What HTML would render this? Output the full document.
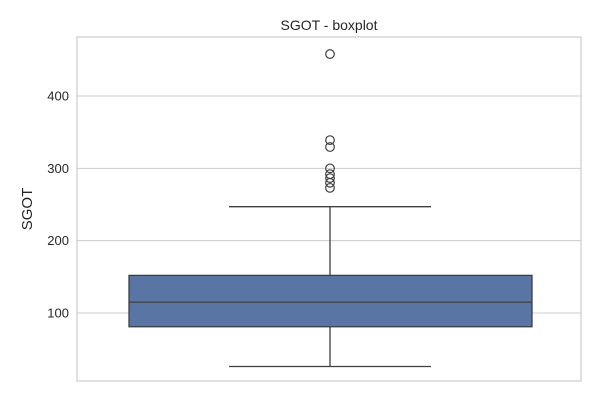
<!DOCTYPE html>
<html><head><meta charset="utf-8"><style>
body{margin:0;background:#fff;font-family:"Liberation Sans",sans-serif}
</style></head><body>
<svg id="chart" width="600" height="400" xmlns="http://www.w3.org/2000/svg"></svg>
<script>
const yTicks=[100,200,300,400];
const stats=[81,115,152];
const whiskers=[26,247];
const outliers=[458,339,329.5,300,292,286.5,280,273];
const svg=document.getElementById('chart');
const NS='http://www.w3.org/2000/svg';
const L=77,R=581,T=37,B=381;
function y(v){return 313-(v-100)*0.7233;}
function mk(tag,attrs,name){const e=document.createElementNS(NS,tag);for(const k in attrs)e.setAttribute(k,attrs[k]);


svg.appendChild(e);return e;}
yTicks.forEach(t=>{
 mk('line',{x1:L,x2:R,y1:y(t),y2:y(t),stroke:'#cccccc','stroke-width':1},'gridline-'+t);
 const tx=mk('text',{x:L-8,y:y(t)+4.5,'text-anchor':'end','font-size':13,fill:'#262626'},'y-tick-label-'+t);tx.textContent=t;
});
mk('rect',{x:L,y:T,width:R-L,height:B-T,fill:'none',stroke:'#cccccc','stroke-width':1.2},'plot-frame');
const cx=330,bl=129,br=532,cl=229,cr=431,c='#3f3f3f';
mk('line',{x1:cx,x2:cx,y1:y(stats[2]),y2:y(whiskers[1]),stroke:c,'stroke-width':1.3},'upper-whisker');
mk('line',{x1:cx,x2:cx,y1:y(stats[0]),y2:y(whiskers[0]),stroke:c,'stroke-width':1.3},'lower-whisker');
mk('line',{x1:cl,x2:cr,y1:y(whiskers[1]),y2:y(whiskers[1]),stroke:c,'stroke-width':1.3},'upper-cap');
mk('line',{x1:cl,x2:cr,y1:y(whiskers[0]),y2:y(whiskers[0]),stroke:c,'stroke-width':1.3},'lower-cap');
mk('rect',{x:bl,y:y(stats[2]),width:br-bl,height:y(stats[0])-y(stats[2]),fill:'#5975a4',stroke:c,'stroke-width':1.3},'iqr-box');
mk('line',{x1:bl,x2:br,y1:y(stats[1]),y2:y(stats[1]),stroke:c,'stroke-width':1.3},'median-line');
outliers.forEach((o,i)=>mk('circle',{cx:cx,cy:y(o),r:4.3,fill:'none',stroke:c,'stroke-width':1.2},'outlier-'+i));
const tt=mk('text',{x:329,y:30,'text-anchor':'middle','font-size':14,fill:'#262626'},'chart-title');tt.textContent='SGOT - boxplot';
const yl=mk('text',{x:32,y:209,'text-anchor':'middle','font-size':15,fill:'#262626',transform:'rotate(-90 32 209)'},'y-axis-title');yl.textContent='SGOT';
</script>
</body></html>
